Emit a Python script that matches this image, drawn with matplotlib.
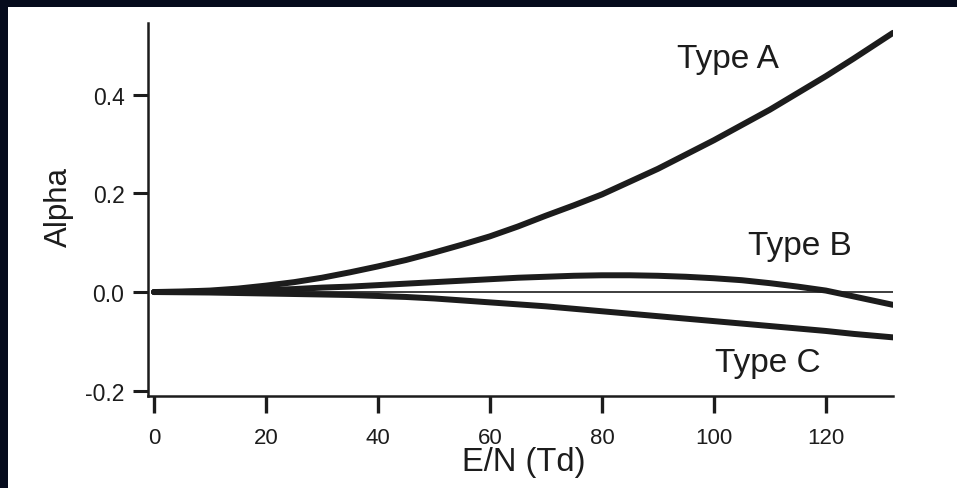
import numpy as np
import matplotlib
matplotlib.use('Agg')
import matplotlib.pyplot as plt
from matplotlib.patches import Rectangle

#------ donnees ------
en_td = [0, 5, 10, 15, 20, 25, 30, 35, 40, 45, 50, 55, 60, 65, 70,
         75, 80, 85, 90, 95, 100, 105, 110, 115, 120, 125, 132]
alpha_a = [0.0, 0.001, 0.003, 0.007, 0.013, 0.020, 0.029, 0.040, 0.052, 0.065, 0.080, 0.096, 0.113, 0.133, 0.155,
           0.176, 0.198, 0.224, 0.250, 0.279, 0.308, 0.339, 0.370, 0.404, 0.438, 0.474, 0.526]
alpha_b = [0.0, 0.0003, 0.001, 0.002, 0.004, 0.006, 0.009, 0.011, 0.014, 0.017, 0.020, 0.023, 0.026, 0.029, 0.031,
           0.033, 0.034, 0.034, 0.033, 0.031, 0.028, 0.024, 0.018, 0.011, 0.003, -0.009, -0.026]
alpha_c = [0.0, -0.0005, -0.001, -0.002, -0.003, -0.004, -0.005, -0.006, -0.008, -0.010, -0.013, -0.017, -0.021, -0.025, -0.029,
           -0.034, -0.039, -0.044, -0.049, -0.054, -0.059, -0.064, -0.069, -0.074, -0.079, -0.085, -0.092]

x_ticks = [0, 20, 40, 60, 80, 100, 120]
y_ticks = [-0.2, 0.0, 0.2, 0.4]
y_ticklabels = ['-0.2', '0.0', '0.2', '0.4']

plt.rcParams['font.family'] = ['Liberation Sans', 'DejaVu Sans']
ink = '#1c1c1c'

W, H = 957, 489
fig = plt.figure(figsize=(W / 100, H / 100), dpi=100, facecolor='#060b1d')
# fond blanc (bordure sombre en haut et a gauche)
fig.patches.append(Rectangle((8 / W, 0), 1, (H - 8) / H, transform=fig.transFigure,
                             facecolor='white', edgecolor='none', zorder=-5))

ax = fig.add_axes([148 / W, (H - 397) / H, (893 - 148) / W, (397 - 24) / H])
ax.set_facecolor('none')

ax.plot([0, en_td[-1]], [0, 0], color=ink, lw=1.2)
for serie in (alpha_a, alpha_b, alpha_c):
    ax.plot(en_td, serie, color=ink, lw=4.3, solid_capstyle='round', solid_joinstyle='round')

ax.set_xlim(-1.07, 132.0)
ax.set_ylim(-0.211, 0.546)
ax.set_xticks(x_ticks)
ax.set_yticks(y_ticks)
ax.set_yticklabels(y_ticklabels)

for s in ('top', 'right'):
    ax.spines[s].set_visible(False)
for s in ('left', 'bottom'):
    ax.spines[s].set_linewidth(1.8)
    ax.spines[s].set_color(ink)

ax.tick_params(axis='x', length=12, width=2.4, pad=10, labelsize=16, colors=ink)
ax.tick_params(axis='y', length=11, width=2.2, pad=6, labelsize=16.5, colors=ink)

ax.text(102.5, 0.473, 'Type A', fontsize=24, ha='center', va='center', color=ink)
ax.text(115.4, 0.095, 'Type B', fontsize=24, ha='center', va='center', color=ink)
ax.text(109.6, -0.144, 'Type C', fontsize=24, ha='center', va='center', color=ink)

fig.text(524 / W, 1 - 463 / H, 'E/N (Td)', fontsize=23.5, ha='center', va='center', color=ink)
fig.text(59 / W, 1 - 207 / H, 'Alpha', fontsize=22.5, ha='center', va='center',
         rotation=90, color=ink)

fig.savefig('out.png', dpi=100, facecolor=fig.get_facecolor())
